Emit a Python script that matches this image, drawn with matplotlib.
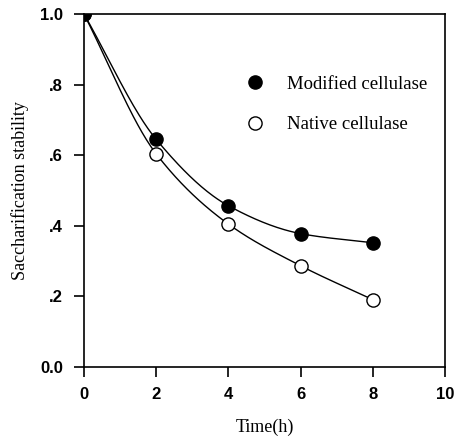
import numpy as np
import matplotlib
matplotlib.use("Agg")
import matplotlib.pyplot as plt

# values
time_h = [0, 2, 4, 6, 8]
modified = [1.0, 0.645, 0.457, 0.378, 0.352]
native = [1.0, 0.604, 0.405, 0.287, 0.191]
xticks = [0, 2, 4, 6, 8, 10]
yticks = [0.0, 0.2, 0.4, 0.6, 0.8, 1.0]
ytick_labels = ["0.0", ".2", ".4", ".6", ".8", "1.0"]


def smooth(x, y, n=200):
    # monotone cubic (Fritsch-Carlson) through the points, only for drawing the line
    x = np.asarray(x, float)
    y = np.asarray(y, float)
    h = np.diff(x)
    d = np.diff(y) / h
    m = np.zeros_like(y)
    m[0], m[-1] = d[0], d[-1]
    for i in range(1, len(x) - 1):
        if d[i - 1] * d[i] > 0:
            m[i] = 2 / (1 / d[i - 1] + 1 / d[i])
    xs = np.linspace(x[0], x[-1], n)
    idx = np.clip(np.searchsorted(x, xs) - 1, 0, len(x) - 2)
    t = (xs - x[idx]) / h[idx]
    h00 = 2 * t**3 - 3 * t**2 + 1
    h10 = t**3 - 2 * t**2 + t
    h01 = -2 * t**3 + 3 * t**2
    h11 = t**3 - t**2
    ys = h00 * y[idx] + h10 * h[idx] * m[idx] + h01 * y[idx + 1] + h11 * h[idx] * m[idx + 1]
    return xs, ys


fig = plt.figure(figsize=(4.56, 4.36), dpi=100)
ax = fig.add_axes([0.184, 0.158, 0.792, 0.81])

for ys in (modified, native):
    sx, sy = smooth(time_h, ys)
    ax.plot(sx, sy, color="black", lw=1.0, zorder=2)

# native first so the shared 1.0 point shows filled
ax.plot(time_h, native, "o", color="white", ms=9.5, mec="black", mew=1.0, label="Native cellulase", zorder=3)
ax.plot(time_h, modified, "o", color="black", ms=9.5, mec="black", label="Modified cellulase", zorder=4)

ax.set_xlim(0, 10)
ax.set_ylim(0, 1.0)
ax.set_xticks(xticks)
ax.set_yticks(yticks)
ax.set_yticklabels(ytick_labels)
for lab in ax.get_xticklabels() + ax.get_yticklabels():
    lab.set_family("Liberation Sans")
    lab.set_fontweight("bold")
    lab.set_fontsize(12)
ax.tick_params(direction="out", length=7, width=1.2)
ax.tick_params(axis="x", pad=7)
ax.tick_params(axis="y", pad=8)
for sp in ax.spines.values():
    sp.set_linewidth(1.2)

ax.set_xlabel("Time(h)", family="Liberation Serif", fontsize=13, labelpad=12)
ax.set_ylabel("Saccharification stability", family="Liberation Serif", fontsize=13, labelpad=8)

h, l = ax.get_legend_handles_labels()
ax.legend(h[::-1], l[::-1], loc="upper left", bbox_to_anchor=(0.426, 0.847), frameon=False,
          prop={"family": "Liberation Serif", "size": 13.5},
          handletextpad=1.2, labelspacing=1.25, handlelength=1.0, borderaxespad=0)

fig.savefig("out.png", dpi=100)
